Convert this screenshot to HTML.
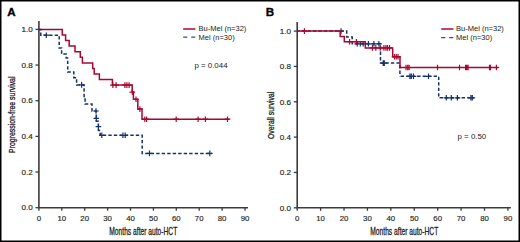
<!DOCTYPE html>
<html><head><meta charset="utf-8"><style>
html,body{margin:0;padding:0;background:#fff;}
body{width:520px;height:242px;overflow:hidden;}
svg{display:block;}
text{font-family:"Liberation Sans",sans-serif;fill:#222;}
.tk{font-size:7.8px;stroke:#222;stroke-width:0.15px;}
.lg{font-size:7.5px;}
.pv{font-size:7.9px;}
.ti{font-size:9.6px;stroke:#222;stroke-width:0.3px;}
.lt{font-size:11.6px;font-weight:bold;fill:#000;stroke:#000;stroke-width:0.35px;}
</style></head><body>
<svg width="520" height="242" viewBox="0 0 520 242">
<rect x="0.75" y="0.75" width="518.5" height="240.5" fill="#fff" stroke="#000" stroke-width="1.5"/>
<path d="M38.9 21.1V207.7H248" fill="none" stroke="#3c3c3c" stroke-width="1.6"/>
<path d="M35.5 207.7H38.9" stroke="#3c3c3c" stroke-width="1.3"/>
<text x="32.8" y="210.45" text-anchor="end" class="tk" style="font-size:8.1px">0.0</text>
<path d="M35.5 172.04H38.9" stroke="#3c3c3c" stroke-width="1.3"/>
<text x="32.8" y="174.79" text-anchor="end" class="tk" style="font-size:8.1px">0.2</text>
<path d="M35.5 136.38H38.9" stroke="#3c3c3c" stroke-width="1.3"/>
<text x="32.8" y="139.13" text-anchor="end" class="tk" style="font-size:8.1px">0.4</text>
<path d="M35.5 100.72H38.9" stroke="#3c3c3c" stroke-width="1.3"/>
<text x="32.8" y="103.47" text-anchor="end" class="tk" style="font-size:8.1px">0.6</text>
<path d="M35.5 65.06H38.9" stroke="#3c3c3c" stroke-width="1.3"/>
<text x="32.8" y="67.81" text-anchor="end" class="tk" style="font-size:8.1px">0.8</text>
<path d="M35.5 29.4H38.9" stroke="#3c3c3c" stroke-width="1.3"/>
<text x="32.8" y="32.15" text-anchor="end" class="tk" style="font-size:8.1px">1.0</text>
<path d="M38.9 207.7V210.7" stroke="#3c3c3c" stroke-width="1.3"/>
<text x="38.9" y="221.3" text-anchor="middle" class="tk">0</text>
<path d="M61.8 207.7V210.7" stroke="#3c3c3c" stroke-width="1.3"/>
<text x="61.8" y="221.3" text-anchor="middle" class="tk">10</text>
<path d="M84.7 207.7V210.7" stroke="#3c3c3c" stroke-width="1.3"/>
<text x="84.7" y="221.3" text-anchor="middle" class="tk">20</text>
<path d="M107.6 207.7V210.7" stroke="#3c3c3c" stroke-width="1.3"/>
<text x="107.6" y="221.3" text-anchor="middle" class="tk">30</text>
<path d="M130.5 207.7V210.7" stroke="#3c3c3c" stroke-width="1.3"/>
<text x="130.5" y="221.3" text-anchor="middle" class="tk">40</text>
<path d="M153.4 207.7V210.7" stroke="#3c3c3c" stroke-width="1.3"/>
<text x="153.4" y="221.3" text-anchor="middle" class="tk">50</text>
<path d="M176.3 207.7V210.7" stroke="#3c3c3c" stroke-width="1.3"/>
<text x="176.3" y="221.3" text-anchor="middle" class="tk">60</text>
<path d="M199.2 207.7V210.7" stroke="#3c3c3c" stroke-width="1.3"/>
<text x="199.2" y="221.3" text-anchor="middle" class="tk">70</text>
<path d="M222.1 207.7V210.7" stroke="#3c3c3c" stroke-width="1.3"/>
<text x="222.1" y="221.3" text-anchor="middle" class="tk">80</text>
<path d="M245 207.7V210.7" stroke="#3c3c3c" stroke-width="1.3"/>
<text x="245" y="221.3" text-anchor="middle" class="tk">90</text>
<path d="M297.2 22.1V207.8H510.9" fill="none" stroke="#3c3c3c" stroke-width="1.6"/>
<path d="M293.8 207.8H297.2" stroke="#3c3c3c" stroke-width="1.3"/>
<text x="291.1" y="210.55" text-anchor="end" class="tk" style="font-size:8.1px">0.0</text>
<path d="M293.8 172.46H297.2" stroke="#3c3c3c" stroke-width="1.3"/>
<text x="291.1" y="175.21" text-anchor="end" class="tk" style="font-size:8.1px">0.2</text>
<path d="M293.8 137.12H297.2" stroke="#3c3c3c" stroke-width="1.3"/>
<text x="291.1" y="139.87" text-anchor="end" class="tk" style="font-size:8.1px">0.4</text>
<path d="M293.8 101.78H297.2" stroke="#3c3c3c" stroke-width="1.3"/>
<text x="291.1" y="104.53" text-anchor="end" class="tk" style="font-size:8.1px">0.6</text>
<path d="M293.8 66.44H297.2" stroke="#3c3c3c" stroke-width="1.3"/>
<text x="291.1" y="69.19" text-anchor="end" class="tk" style="font-size:8.1px">0.8</text>
<path d="M293.8 31.1H297.2" stroke="#3c3c3c" stroke-width="1.3"/>
<text x="291.1" y="33.85" text-anchor="end" class="tk" style="font-size:8.1px">1.0</text>
<path d="M297.2 207.8V210.8" stroke="#3c3c3c" stroke-width="1.3"/>
<text x="297.2" y="221.3" text-anchor="middle" class="tk">0</text>
<path d="M320.61 207.8V210.8" stroke="#3c3c3c" stroke-width="1.3"/>
<text x="320.61" y="221.3" text-anchor="middle" class="tk">10</text>
<path d="M344.02 207.8V210.8" stroke="#3c3c3c" stroke-width="1.3"/>
<text x="344.02" y="221.3" text-anchor="middle" class="tk">20</text>
<path d="M367.43 207.8V210.8" stroke="#3c3c3c" stroke-width="1.3"/>
<text x="367.43" y="221.3" text-anchor="middle" class="tk">30</text>
<path d="M390.84 207.8V210.8" stroke="#3c3c3c" stroke-width="1.3"/>
<text x="390.84" y="221.3" text-anchor="middle" class="tk">40</text>
<path d="M414.26 207.8V210.8" stroke="#3c3c3c" stroke-width="1.3"/>
<text x="414.26" y="221.3" text-anchor="middle" class="tk">50</text>
<path d="M437.67 207.8V210.8" stroke="#3c3c3c" stroke-width="1.3"/>
<text x="437.67" y="221.3" text-anchor="middle" class="tk">60</text>
<path d="M461.08 207.8V210.8" stroke="#3c3c3c" stroke-width="1.3"/>
<text x="461.08" y="221.3" text-anchor="middle" class="tk">70</text>
<path d="M484.49 207.8V210.8" stroke="#3c3c3c" stroke-width="1.3"/>
<text x="484.49" y="221.3" text-anchor="middle" class="tk">80</text>
<path d="M507.9 207.8V210.8" stroke="#3c3c3c" stroke-width="1.3"/>
<text x="507.9" y="221.3" text-anchor="middle" class="tk">90</text>
<path d="M38.9 29.4H62.3V35H65.6V40.5H69.2V46H75V51.7H80.3V57.3H82.4V62.9H92.7V68.4H94.2V73.9H99.4V79.5H112.4V85.1H132.2V92H133.4V99.3H137.8V109.1H142V119.2H229.4" fill="none" stroke="#a8072f" stroke-width="1.5"/><path d="M112.9 82.3v5.6M110.1 85.1h5.6M116.1 82.3v5.6M113.3 85.1h5.6M124.9 82.3v5.6M122.1 85.1h5.6M126.9 82.3v5.6M124.1 85.1h5.6M129.1 82.3v5.6M126.3 85.1h5.6M132.3 89.3v5.6M129.5 92.1h5.6M136 96.5v5.6M133.2 99.3h5.6M139.9 106.3v5.6M137.1 109.1h5.6M144.8 116.4v5.6M142 119.2h5.6M146.6 116.4v5.6M143.8 119.2h5.6M176.2 116.4v5.6M173.4 119.2h5.6M198.1 116.4v5.6M195.3 119.2h5.6M205.4 116.4v5.6M202.6 119.2h5.6M227.5 116.4v5.6M224.7 119.2h5.6" fill="none" stroke="#a8072f" stroke-width="1.2"/>
<path d="M38.9 29.4H40.8V35.2H59.2V47.9H61.6V54.1H66.2V57.9H67.7V72H73.8V77.7H76.6V84.9H84.1V97.7H85.1V104H92V111H96.3V121.3H98.4V130.6H100.2V135.3" fill="none" stroke="#14306e" stroke-width="1.5" stroke-dasharray="3.4 2.1" stroke-dashoffset="-5.1"/><path d="M100.2 135.3H142.2V153.4H211.9" fill="none" stroke="#14306e" stroke-width="1.5" stroke-dasharray="3.4 2.1" stroke-dashoffset="-2.6"/><path d="M46.3 32.4v5.6M43.5 35.2h5.6M81.6 82.1v5.6M78.8 84.9h5.6M96 108.2v5.6M93.2 111h5.6M96.3 115.5v5.6M93.5 118.3h5.6M98.4 123.9v5.6M95.6 126.7h5.6M101.8 132.5v5.6M99 135.3h5.6M122.9 132.5v5.6M120.1 135.3h5.6M125.2 132.5v5.6M122.4 135.3h5.6M149.5 150.6v5.6M146.7 153.4h5.6M209.8 150.6v5.6M207 153.4h5.6" fill="none" stroke="#14306e" stroke-width="1.2"/>
<path d="M297.2 31.1H346.7V37H352.2V43.8H380.5V63.1H399.9V76.3" fill="none" stroke="#14306e" stroke-width="1.5" stroke-dasharray="3.4 2.1" stroke-dashoffset="-4.7"/><path d="M399.9 76.3H438.7V97.8H474.2" fill="none" stroke="#14306e" stroke-width="1.5" stroke-dasharray="3.4 2.1" stroke-dashoffset="-0.7"/><path d="M341 28.3v5.6M338.2 31.1h5.6M357.3 41v5.6M354.5 43.8h5.6M360.3 41v5.6M357.5 43.8h5.6M363.2 41v5.6M360.4 43.8h5.6M368.4 41v5.6M365.6 43.8h5.6M373.9 41v5.6M371.1 43.8h5.6M378.9 41v5.6M376.1 43.8h5.6M383.2 60.3v5.6M380.4 63.1h5.6M384.3 60.3v5.6M381.5 63.1h5.6M409.9 73.5v5.6M407.1 76.3h5.6M411.3 73.5v5.6M408.5 76.3h5.6M413.5 73.5v5.6M410.7 76.3h5.6M428.5 73.5v5.6M425.7 76.3h5.6M446.3 95v5.6M443.5 97.8h5.6M451.3 95v5.6M448.5 97.8h5.6M457.4 95v5.6M454.6 97.8h5.6M470.9 95v5.6M468.1 97.8h5.6M472.3 95v5.6M469.5 97.8h5.6" fill="none" stroke="#14306e" stroke-width="1.2"/>
<path d="M297.2 31.1H340.2V36.6H344.3V41.7H365.3V47.9H392.7V56.8H400V67.5H498.7" fill="none" stroke="#a8072f" stroke-width="1.5"/><path d="M304.4 28.3v5.6M301.6 31.1h5.6M349.6 38.9v5.6M346.8 41.7h5.6M356.4 38.9v5.6M353.6 41.7h5.6M372.5 45.1v5.6M369.7 47.9h5.6M375.8 45.1v5.6M373 47.9h5.6M380.2 45.1v5.6M377.4 47.9h5.6M383.9 45.1v5.6M381.1 47.9h5.6M385.9 45.1v5.6M383.1 47.9h5.6M387.5 45.1v5.6M384.7 47.9h5.6M389.5 45.1v5.6M386.7 47.9h5.6M394.5 54v5.6M391.7 56.8h5.6M396.3 54v5.6M393.5 56.8h5.6M398 54v5.6M395.2 56.8h5.6M406 64.7v5.6M403.2 67.5h5.6M407.7 64.7v5.6M404.9 67.5h5.6M409.1 64.7v5.6M406.3 67.5h5.6M437.5 64.7v5.6M434.7 67.5h5.6M459.5 64.7v5.6M456.7 67.5h5.6M465.6 64.7v5.6M462.8 67.5h5.6M466.8 64.7v5.6M464 67.5h5.6M468.1 64.7v5.6M465.3 67.5h5.6M489.5 64.7v5.6M486.7 67.5h5.6M490.4 64.7v5.6M487.6 67.5h5.6M496.4 64.7v5.6M493.6 67.5h5.6" fill="none" stroke="#a8072f" stroke-width="1.2"/>
<path d="M183.2 29h12.2" stroke="#a8072f" stroke-width="1.5"/><path d="M183.2 37.2h12.2" stroke="#2d4f8f" stroke-width="1.3" stroke-dasharray="4.1 3.9"/><text x="198.6" y="31.4" class="lg">Bu-Mel (n=32)</text><text x="198.6" y="39.6" class="lg">Mel (n=30)</text>
<path d="M441.2 29h12.2" stroke="#a8072f" stroke-width="1.5"/><path d="M441.2 37.6h12.2" stroke="#2d4f8f" stroke-width="1.3" stroke-dasharray="4.1 3.9"/><text x="456.1" y="31.4" class="lg">Bu-Mel (n=32)</text><text x="456.1" y="40" class="lg">Mel (n=30)</text>
<text x="194.4" y="67.5" class="pv">p = 0.044</text>
<text x="457.5" y="139.0" class="pv">p = 0.50</text>
<text transform="translate(109.3 234.6) scale(0.656 1)" class="ti" style="font-size:10.2px">Months after auto-HCT</text>
<text transform="translate(370.3 234.6) scale(0.656 1)" class="ti" style="font-size:10.2px">Months after auto-HCT</text>
<text transform="translate(14.9 152.9) rotate(-90) scale(0.72 1)" class="ti">Progression-free survival</text>
<text transform="translate(273.5 139) rotate(-90) scale(0.72 1)" class="ti">Overall survival</text>
<text x="7.2" y="15.6" class="lt">A</text>
<text x="265.8" y="15.6" class="lt">B</text>
</svg>
</body></html>
